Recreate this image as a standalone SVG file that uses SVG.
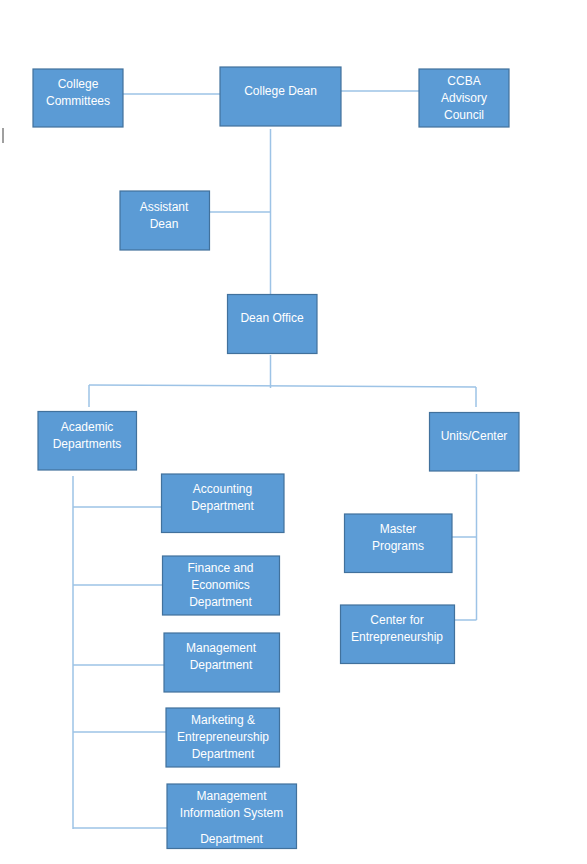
<svg xmlns="http://www.w3.org/2000/svg" width="587" height="864" viewBox="0 0 587 864">
<style>
.box{fill:#5B9BD5;stroke:#41719C;stroke-width:1.2}
.t{font-family:"Liberation Sans",Arial,sans-serif;font-size:12px;fill:#FFFFFF;text-anchor:middle}
.c{fill:none;stroke:#9DC3E6;stroke-width:1.5}
</style>
<rect width="587" height="864" fill="#FFFFFF"/>
<line x1="3" y1="128" x2="3" y2="143" stroke="#404040" stroke-width="1"/>
<g id="connectors">
<line class="c" x1="123" y1="94" x2="220" y2="94"/>
<line class="c" x1="341" y1="91" x2="419" y2="91"/>
<line class="c" x1="270.5" y1="129" x2="270.5" y2="294"/>
<line class="c" x1="209" y1="212" x2="270.5" y2="212"/>
<line class="c" x1="270.5" y1="355" x2="270.5" y2="388"/>
<line class="c" x1="89" y1="385" x2="476" y2="387"/>
<line class="c" x1="89" y1="385" x2="89" y2="407"/>
<line class="c" x1="476" y1="387" x2="476" y2="407"/>
<line class="c" x1="73" y1="476" x2="73" y2="829"/>
<line class="c" x1="73" y1="507" x2="161" y2="507"/>
<line class="c" x1="73" y1="585" x2="162" y2="585"/>
<line class="c" x1="73" y1="665" x2="164" y2="665"/>
<line class="c" x1="73" y1="732" x2="166" y2="732"/>
<line class="c" x1="73" y1="828" x2="167" y2="828"/>
<line class="c" x1="476.5" y1="474" x2="476.5" y2="620"/>
<line class="c" x1="452" y1="537" x2="476.5" y2="537"/>
<line class="c" x1="455" y1="620" x2="476.5" y2="620"/>
</g>
<g id="college-committees"><rect class="box" x="33" y="69" width="90" height="58"/><text class="t" x="78" y="88">College</text><text class="t" x="78" y="105">Committees</text></g>
<g id="college-dean"><rect class="box" x="220" y="67" width="121" height="59"/><text class="t" x="280.5" y="95">College Dean</text></g>
<g id="ccba"><rect class="box" x="419" y="69" width="90" height="58"/><text class="t" x="464" y="85">CCBA</text><text class="t" x="464" y="102">Advisory</text><text class="t" x="464" y="119">Council</text></g>
<g id="assistant-dean"><rect class="box" x="120" y="191" width="89.5" height="59"/><text class="t" x="164" y="211">Assistant</text><text class="t" x="164" y="228">Dean</text></g>
<g id="dean-office"><rect class="box" x="227.5" y="294.5" width="89.5" height="59"/><text class="t" x="272" y="322">Dean Office</text></g>
<g id="academic-departments"><rect class="box" x="38" y="411.5" width="98.5" height="58.5"/><text class="t" x="87" y="431">Academic</text><text class="t" x="87" y="448">Departments</text></g>
<g id="units-center"><rect class="box" x="429.5" y="412.5" width="89.5" height="58.5"/><text class="t" x="474" y="440">Units/Center</text></g>
<g id="accounting"><rect class="box" x="161.5" y="474" width="122.5" height="58.5"/><text class="t" x="222.5" y="493">Accounting</text><text class="t" x="222.5" y="510">Department</text></g>
<g id="finance"><rect class="box" x="162.5" y="556" width="117" height="59"/><text class="t" x="220.5" y="572">Finance and</text><text class="t" x="220.5" y="589">Economics</text><text class="t" x="220.5" y="606">Department</text></g>
<g id="management"><rect class="box" x="164" y="633" width="115.5" height="59"/><text class="t" x="221" y="652">Management</text><text class="t" x="221" y="669">Department</text></g>
<g id="marketing"><rect class="box" x="166" y="708" width="113.5" height="59"/><text class="t" x="223" y="724">Marketing &amp;</text><text class="t" x="223" y="741">Entrepreneurship</text><text class="t" x="223" y="758">Department</text></g>
<g id="mis"><rect class="box" x="167" y="784" width="129.5" height="64.5"/><text class="t" x="231.5" y="800">Management</text><text class="t" x="231.5" y="817">Information System</text><text class="t" x="231.5" y="843">Department</text></g>
<g id="master-programs"><rect class="box" x="344.5" y="514" width="107.5" height="58.5"/><text class="t" x="398" y="533">Master</text><text class="t" x="398" y="550">Programs</text></g>
<g id="center-entrepreneurship"><rect class="box" x="340.5" y="605" width="114" height="58.5"/><text class="t" x="397" y="624">Center for</text><text class="t" x="397" y="641">Entrepreneurship</text></g>
</svg>
